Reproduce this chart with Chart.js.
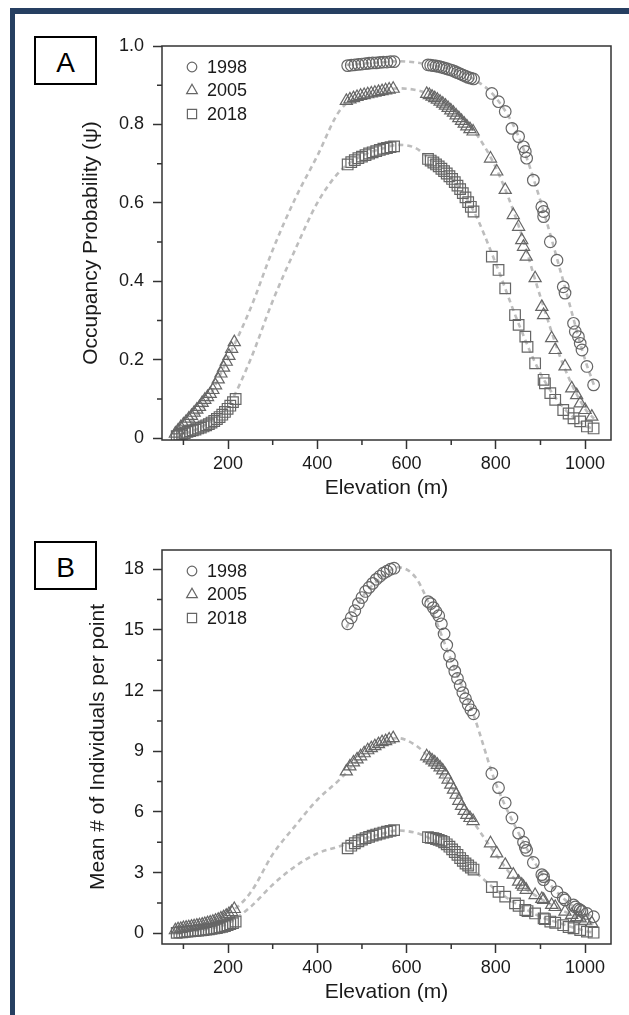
<!DOCTYPE html>
<html><head><meta charset="utf-8">
<script src="https://cdn.jsdelivr.net/npm/chart.js@4/dist/chart.umd.min.js"></script>
<style>
html,body{margin:0;padding:0;background:#fff;}
body{width:629px;height:1015px;position:relative;overflow:hidden;font-family:'Liberation Sans',Arial,sans-serif;}
.wrap{position:absolute;left:0;width:629px;}
#wa{top:0;height:510px;}
#wb{top:508px;height:507px;}
.bar-top{position:absolute;left:10px;top:8px;width:619px;height:6px;background:#263f61;}
.bar-left{position:absolute;left:10px;top:8px;width:5px;height:1007px;background:#263f61;}
.tag{position:absolute;left:34px;width:59px;height:45px;border:2px solid #000;font-size:28px;text-align:center;line-height:50px;color:#000;background:#fff;}
</style></head>
<body>
<div class="wrap" id="wa"><canvas id="ca"></canvas></div>
<div class="wrap" id="wb"><canvas id="cb"></canvas></div>
<div class="bar-top"></div><div class="bar-left"></div>
<div class="tag" style="top:36px">A</div>
<div class="tag" style="top:541px">B</div>
<script>
// ---------- DATA ----------
const years = ['1998', '2005', '2018'];

const elev1998 = [468,476,484,492,500,508,516,524,532,540,548,556,564,572,
  648,654,660,666,672,678,684,690,696,702,708,714,720,726,732,738,744,750,
  791,806,821,836,851,862,866,869,884,903,907,907,922,937,951,955,974,978,985,989,993,1004,1019];
const psi1998 = [.950,.951,.952,.953,.954,.955,.956,.957,.957,.958,.959,.959,.960,.960,
  .952,.951,.950,.949,.948,.946,.944,.942,.940,.938,.935,.932,.929,.926,.923,.920,.918,.916,
  .879,.858,.833,.790,.769,.743,.731,.714,.658,.590,.578,.565,.501,.454,.386,.370,.293,.272,.259,.242,.225,.183,.136];
const abund1998 = [15.3,15.6,15.95,16.3,16.6,16.9,17.1,17.3,17.5,17.65,17.8,17.9,18.0,18.05,
  16.4,16.3,16.1,15.9,15.7,15.3,14.8,14.25,13.7,13.3,12.95,12.6,12.25,11.9,11.6,11.3,11.05,10.85,
  7.9,7.2,6.45,5.7,4.95,4.5,4.25,4.1,3.5,2.9,2.8,2.65,2.35,2.05,1.75,1.65,1.4,1.3,1.2,1.15,1.08,0.98,0.82];

const elev2005 = [82,88,94,100,106,112,118,124,130,136,142,148,154,160,166,172,178,184,190,196,202,208,214,
  465,473,481,489,497,505,513,521,529,537,545,553,561,570,
  645,651,657,663,669,675,681,687,693,699,705,711,717,723,729,735,742,749,
  788,802,821,839,851,858,862,868,888,903,907,925,933,955,970,981,989,1000,1015];
const psi2005 = [.012,.02,.028,.035,.042,.05,.057,.065,.073,.08,.09,.098,.105,.113,.123,.135,.15,.165,.18,.195,.21,.228,.245,
  .860,.864,.867,.870,.873,.875,.877,.879,.881,.883,.885,.887,.889,.891,
  .878,.875,.871,.867,.863,.858,.853,.848,.842,.836,.830,.823,.816,.809,.802,.795,.788,.782,
  .713,.680,.633,.569,.539,.505,.488,.463,.408,.335,.314,.255,.225,.183,.127,.110,.089,.072,.055];
const abund2005 = [.15,.2,.22,.26,.28,.3,.33,.35,.38,.4,.43,.46,.5,.53,.57,.62,.67,.73,.8,.87,.95,1.05,1.2,
  8.0,8.25,8.45,8.6,8.75,8.9,9.05,9.15,9.25,9.35,9.45,9.5,9.58,9.65,
  8.75,8.65,8.55,8.45,8.33,8.2,8.05,7.85,7.6,7.35,7.1,6.85,6.55,6.3,6.05,5.85,5.7,5.55,
  4.45,3.95,3.38,2.9,2.55,2.4,2.3,2.15,1.89,1.7,1.65,1.4,1.3,1.07,0.91,0.8,0.74,0.62,0.5];

const elev2018 = [85,91,97,103,109,115,121,127,133,139,145,151,157,163,169,175,181,187,193,199,205,211,217,
  468,476,484,492,500,508,516,524,532,540,548,556,564,572,
  648,654,660,666,672,678,684,690,696,702,708,714,720,726,732,738,744,750,
  791,806,821,843,851,866,871,888,907,910,922,933,951,963,974,989,1004,1019];
const psi2018 = [.005,.009,.011,.013,.016,.018,.02,.022,.025,.027,.03,.033,.036,.04,.044,.049,.054,.06,.067,.075,.083,.092,.10,
  .698,.704,.709,.714,.718,.722,.726,.729,.732,.735,.738,.740,.742,.744,
  .712,.708,.703,.698,.693,.687,.681,.675,.668,.661,.653,.644,.635,.625,.614,.602,.590,.578,
  .463,.429,.382,.314,.289,.259,.233,.191,.149,.14,.115,.098,.072,.063,.051,.043,.030,.025];
const abund2018 = [.02,.04,.05,.07,.08,.1,.11,.12,.13,.15,.16,.18,.2,.22,.24,.26,.29,.32,.36,.4,.45,.5,.58,
  4.2,4.33,4.45,4.55,4.63,4.7,4.77,4.83,4.88,4.93,4.98,5.02,5.06,5.1,
  4.75,4.72,4.7,4.66,4.62,4.57,4.5,4.4,4.28,4.15,4.02,3.88,3.72,3.58,3.45,3.35,3.25,3.15,
  2.28,2.05,1.81,1.48,1.36,1.15,1.1,0.98,0.74,0.7,0.58,0.52,0.4,0.31,0.25,0.16,0.08,0.03];

// fitted curves
const curveElev1998 = [465,500,550,580,620,650,700,750,800,850,900,950,1000,1020];
const curvePsi1998 = [.952,.955,.959,.961,.958,.952,.940,.916,.868,.772,.605,.405,.20,.135];
const curveAbund1998 = [15.1,16.6,17.7,18.1,17.6,16.3,13.5,10.8,7.4,5.0,3.05,1.75,1.0,0.8];
const curveElev = [85,100,150,200,250,300,350,400,450,500,550,580,620,650,700,750,800,850,900,950,1000,1020];
const curvePsi2005 = [.012,.025,.09,.205,.33,.48,.61,.72,.835,.873,.887,.892,.888,.877,.84,.785,.69,.545,.36,.19,.075,.05];
const curveAbund2005 = [.15,.25,.5,.95,2.0,3.9,5.3,6.6,7.6,8.75,9.45,9.65,9.3,8.7,7.25,5.5,3.9,2.5,1.72,1.12,.62,.45];
const curvePsi2018 = [.004,.01,.035,.082,.20,.35,.48,.60,.68,.72,.74,.748,.74,.713,.665,.58,.445,.295,.165,.08,.032,.024];
const curveAbund2018 = [.02,.06,.2,.5,1.3,2.4,3.3,3.95,4.3,4.65,4.95,5.08,4.97,4.72,4.1,3.12,2.15,1.4,.82,.45,.12,.03];

// ticks
const xMajor = [200,400,600,800,1000];
const xMajorLabels = ['200','400','600','800','1000'];
const xMinor = [100,300,500,700,900];
const yMajorA = [0,0.2,0.4,0.6,0.8,1.0];
const yMajorLabelsA = ['0','0.2','0.4','0.6','0.8','1.0'];
const yMinorA = [0.1,0.3,0.5,0.7,0.9];
const yMajorB = [0,3,6,9,12,15,18];
const yMajorLabelsB = ['0','3','6','9','12','15','18'];
const yMinorB = [1.5,4.5,7.5,10.5,13.5,16.5];

// ---------- RENDER ----------
const FONT = "'Liberation Sans', Arial, sans-serif";
const MARK = '#666';
const CURVE = '#bdbdbd';
const pts = (xs, ys) => xs.map((x, i) => ({x: x, y: ys[i]}));

const framePlugin = {
  id: 'frame',
  afterDraw(chart, args, o) {
    const {ctx, chartArea: a, scales: {x, y}} = chart;
    ctx.save();
    ctx.strokeStyle = '#333'; ctx.lineWidth = 1.5;
    ctx.strokeRect(a.left, a.top, a.right - a.left, a.bottom - a.top);
    ctx.beginPath();
    o.xMinor.forEach(v => { const p = x.getPixelForValue(v); ctx.moveTo(p, a.bottom); ctx.lineTo(p, a.bottom + 5); });
    o.yMinor.forEach(v => { const p = y.getPixelForValue(v); ctx.moveTo(a.left, p); ctx.lineTo(a.left - 5, p); });
    ctx.stroke();
    // legend
    const styles = [['circle', 4.8], ['triangle', 6.2], ['rect', 6.5]];
    years.forEach((lab, i) => {
      const yy = a.top + 21 + i * 23.5;
      ctx.strokeStyle = MARK; ctx.fillStyle = 'rgba(0,0,0,0)'; ctx.lineWidth = 1.2;
      Chart.helpers.drawPoint(ctx, {pointStyle: styles[i][0], radius: styles[i][1], borderWidth: 1.2, rotation: 0}, a.left + 30, yy);
      ctx.fillStyle = '#1a1a1a'; ctx.font = '18px ' + FONT; ctx.textBaseline = 'middle'; ctx.textAlign = 'left';
      ctx.fillText(lab, a.left + 45, yy + 1);
    });
    ctx.restore();
  }
};

function scatterSet(data, style, r) {
  return {data: data, pointStyle: style, pointRadius: r, borderColor: MARK, backgroundColor: 'rgba(0,0,0,0)',
    borderWidth: 1.2, showLine: false, order: 1};
}
function curveSet(data) {
  return {data: data, showLine: true, pointRadius: 0, borderColor: CURVE, borderWidth: 2.6, borderDash: [5, 4],
    cubicInterpolationMode: 'monotone', fill: false, order: 2};
}

function makeChart(id, cfg) {
  return new Chart(document.getElementById(id), {
    type: 'scatter',
    data: {datasets: cfg.datasets},
    options: {
      responsive: true, maintainAspectRatio: false, animation: false, events: [],
      layout: {padding: cfg.padding},
      plugins: {legend: {display: false}, tooltip: {enabled: false},
        frame: {xMinor: xMinor, yMinor: cfg.yMinor}},
      scales: {
        x: {
          type: 'linear', min: 52, max: 1058,
          afterBuildTicks: s => { s.ticks = xMajor.map(v => ({value: v})); },
          afterFit: s => { s.height = 65; },
          border: {display: false},
          grid: {drawOnChartArea: false, drawTicks: true, tickLength: 9, tickColor: '#333', tickWidth: 1.5},
          ticks: {padding: 4, color: '#1a1a1a', font: {family: FONT, size: 18}, maxRotation: 0,
            callback: (v, i) => xMajorLabels[i]},
          title: {display: true, text: 'Elevation (m)', color: '#1a1a1a', font: {family: FONT, size: 21}}
        },
        y: {
          type: 'linear', min: cfg.ymin, max: cfg.ymax,
          afterBuildTicks: s => { s.ticks = cfg.yMajor.map(v => ({value: v})); },
          afterFit: s => { s.width = cfg.yWidth; },
          border: {display: false},
          grid: {drawOnChartArea: false, drawTicks: true, tickLength: 9, tickColor: '#333', tickWidth: 1.5},
          ticks: {padding: 9, color: '#1a1a1a', font: {family: FONT, size: 18},
            callback: (v, i) => cfg.yLabels[i]},
          title: {display: true, text: cfg.ytitle, color: '#1a1a1a', font: {family: FONT, size: 21}}
        }
      }
    },
    plugins: [framePlugin]
  });
}

makeChart('ca', {
  padding: {left: 75, top: 46, right: 18, bottom: 5},
  yWidth: 87, ymin: -0.0045, ymax: 1.0,
  yMajor: yMajorA, yLabels: yMajorLabelsA, yMinor: yMinorA,
  ytitle: 'Occupancy Probability (\u03c8)',
  datasets: [
    scatterSet(pts(elev1998, psi1998), 'circle', 5.8),
    scatterSet(pts(elev2005, psi2005), 'triangle', 7),
    scatterSet(pts(elev2018, psi2018), 'rect', 7.5),
    curveSet(pts(curveElev1998, curvePsi1998)),
    curveSet(pts(curveElev, curvePsi2005)),
    curveSet(pts(curveElev, curvePsi2018))
  ]
});

makeChart('cb', {
  padding: {left: 82, top: 42, right: 18, bottom: 6},
  yWidth: 80, ymin: -0.53, ymax: 18.95,
  yMajor: yMajorB, yLabels: yMajorLabelsB, yMinor: yMinorB,
  ytitle: 'Mean # of Individuals per point',
  datasets: [
    scatterSet(pts(elev1998, abund1998), 'circle', 5.8),
    scatterSet(pts(elev2005, abund2005), 'triangle', 7),
    scatterSet(pts(elev2018, abund2018), 'rect', 7.5),
    curveSet(pts(curveElev1998, curveAbund1998)),
    curveSet(pts(curveElev, curveAbund2005)),
    curveSet(pts(curveElev, curveAbund2018))
  ]
});
</script>
</body></html>
